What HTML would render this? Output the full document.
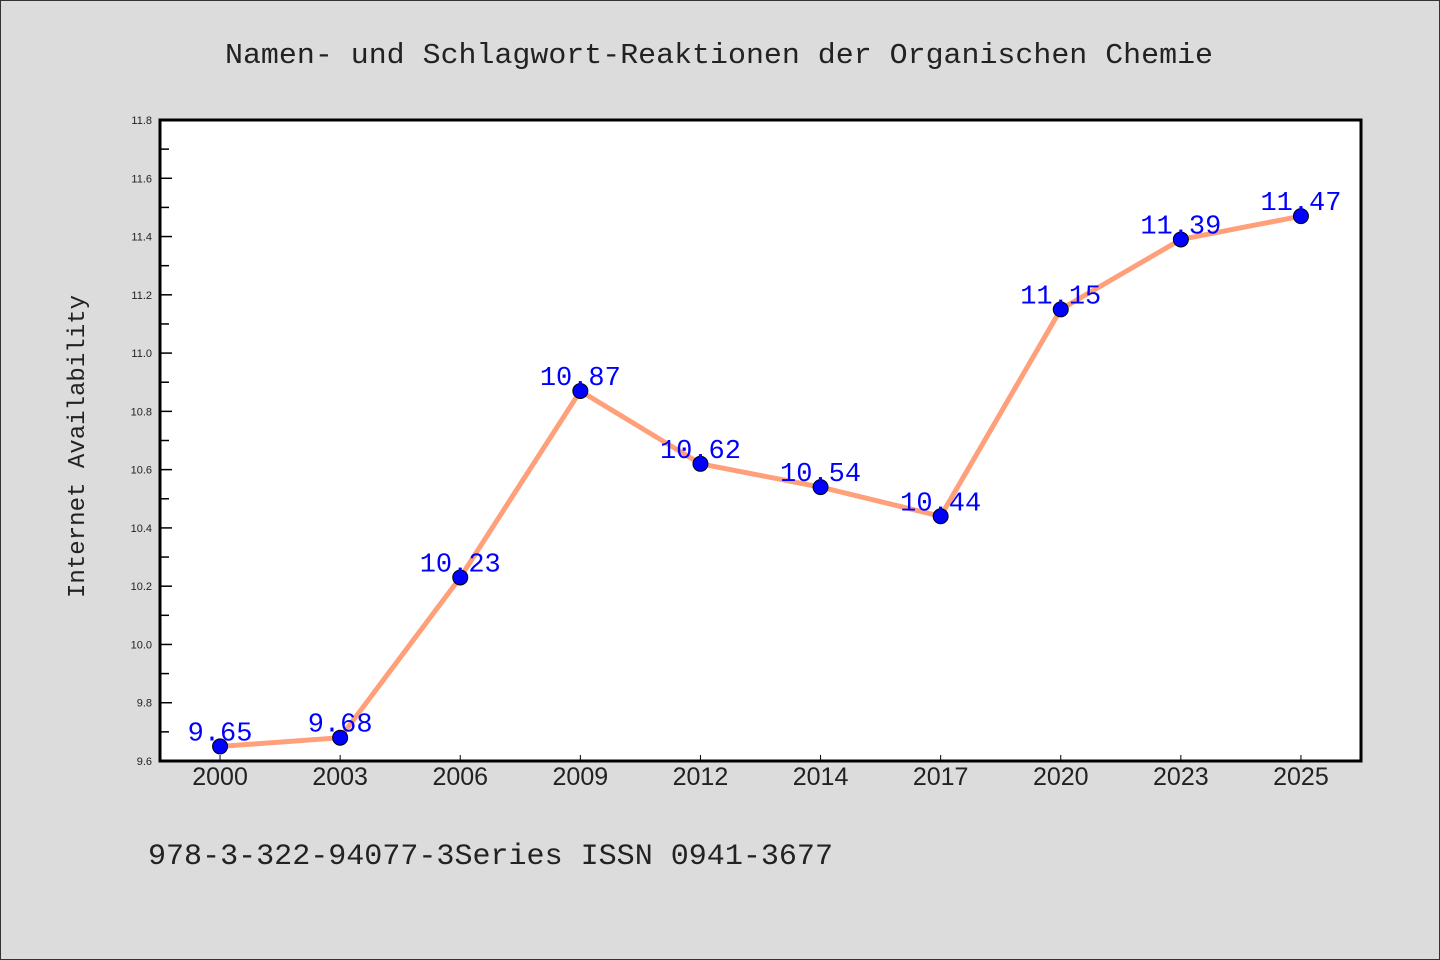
<!DOCTYPE html>
<html><head><meta charset="utf-8"><style>
html,body{margin:0;padding:0;background:#dcdcdc;}
svg{display:block;font-family:"Liberation Mono","DejaVu Sans Mono",monospace;}
</style></head><body>
<svg id="chart" width="1440" height="960" viewBox="0 0 1440 960">
<rect x="0.5" y="0.5" width="1439" height="959" fill="#dcdcdc" stroke="#333" stroke-width="1"/>
<text x="225" y="63" font-size="29" fill="#222" textLength="988" lengthAdjust="spacingAndGlyphs">Namen- und Schlagwort-Reaktionen der Organischen Chemie</text>
<rect x="160" y="120" width="1201" height="641" fill="#fff"/>
<g id="yaxis"></g>
<g id="xaxis"></g>
<g id="series"></g>
<rect x="160" y="120" width="1201" height="641" fill="none" stroke="#000" stroke-width="3"/>
<text transform="translate(84,598) rotate(-90)" font-size="24" fill="#222" textLength="303" lengthAdjust="spacingAndGlyphs">Internet Availability</text>
<text x="148" y="864" font-size="30" fill="#222" textLength="685" lengthAdjust="spacingAndGlyphs">978-3-322-94077-3Series ISSN 0941-3677</text>
</svg>
<script>
const categories=["2000","2003","2006","2009","2012","2014","2017","2020","2023","2025"];
const values=[9.65,9.68,10.23,10.87,10.62,10.54,10.44,11.15,11.39,11.47];
const yTicks=[9.6,9.8,10.0,10.2,10.4,10.6,10.8,11.0,11.2,11.4,11.6,11.8];
const yTickLabels=["9.6","9.8","10.0","10.2","10.4","10.6","10.8","11.0","11.2","11.4","11.6","11.8"];
const NS="http://www.w3.org/2000/svg";
const L=160,R=1361,T=120,B=761,yMin=9.6,yMax=11.8;
const band=(R-L)/categories.length;
const x=i=>L+band*(i+0.5);
const y=v=>B-(v-yMin)/(yMax-yMin)*(B-T);
function mk(tag,attrs,parent){const e=document.createElementNS(NS,tag);for(const k in attrs)e.setAttribute(k,attrs[k]);parent.appendChild(e);return e;}
const ya=document.getElementById('yaxis'),xa=document.getElementById('xaxis'),se=document.getElementById('series');
yTicks.forEach((t,i)=>{
  const l=mk('line',{x1:L,x2:L+12,y1:y(t),y2:y(t),stroke:'#000','stroke-width':1.5},ya);
  
  
  const tx=mk('text',{x:L-8,y:y(t)+4,'text-anchor':'end','font-size':11,fill:'#222','font-family':'Liberation Sans, sans-serif'},ya);
  tx.textContent=yTickLabels[i];
  
  
  if(i<yTicks.length-1){
    const m=mk('line',{x1:L,x2:L+9,y1:y(t+0.1),y2:y(t+0.1),stroke:'#000','stroke-width':1.5},ya);
    
    
  }
});
categories.forEach((c,i)=>{
  const l=mk('line',{x1:x(i),x2:x(i),y1:B,y2:B-6,stroke:'#000','stroke-width':1},xa);
  
  
  const tx=mk('text',{x:x(i),y:B+24,'text-anchor':'middle','font-size':25,fill:'#222','font-family':'Liberation Sans, sans-serif'},xa);
  tx.textContent=c;
  
  
});
const pl=mk('polyline',{points:values.map((v,i)=>x(i)+','+y(v)).join(' '),fill:'none',stroke:'#ffa07a','stroke-width':5},se);


values.forEach((v,i)=>{
  const c=mk('circle',{cx:x(i),cy:y(v),r:7.5,fill:'#0000ff',stroke:'#000','stroke-width':1},se);
  
  
  const t=mk('text',{x:x(i),y:y(v)-6,'text-anchor':'middle','font-size':27,fill:'#0000ff'},se);
  t.textContent=v.toFixed(2);
  
  
});
</script>
</body></html>
